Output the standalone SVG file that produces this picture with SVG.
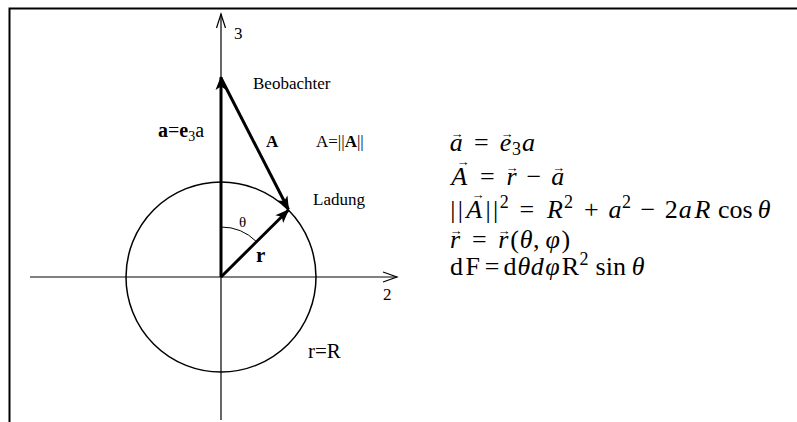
<svg xmlns="http://www.w3.org/2000/svg" width="797" height="422" viewBox="0 0 797 422">
<style>
text{font-family:"Liberation Serif","Times New Roman",serif;fill:#000}
.lb{font-size:17px}
.m{font-size:26px}
.s{font-size:18px}
.i{font-style:italic}
.b{font-weight:bold}
.v{font-size:13px;text-anchor:middle}
.ax{stroke:#000;stroke-width:1.2;fill:none}
.vec{stroke:#000;stroke-width:3;fill:none;marker-end:url(#ah)}
</style>
<defs>
<marker id="ah" markerUnits="userSpaceOnUse" markerWidth="16" markerHeight="12" refX="14" refY="6" orient="auto" viewBox="0 0 16 12">
<path d="M15,6 L1,0.5 L4.5,6 L1,11.5 Z" fill="#000"/>
</marker>
</defs>
<rect width="797" height="422" fill="#fff"/>
<path d="M9.5,422 V8.5 H797" stroke="#000" stroke-width="2" fill="none"/>

<g id="axis2">
<line x1="30" y1="277" x2="397" y2="277" stroke="#808080" stroke-width="2"/>
<path class="ax" d="M383,272 L397,277 L383,282" stroke="#555"/>
<text class="lb" x="383" y="300">2</text>
</g>
<g id="axis3">
<line class="ax" x1="221" y1="420" x2="221" y2="14"/>
<path class="ax" d="M216.5,28 L221,14 L225.5,28"/>
<text class="lb" x="234" y="39">3</text>
</g>
<g id="sphere">
<circle cx="221" cy="277" r="95" fill="none" stroke="#000" stroke-width="1.5"/>
<text x="308" y="358" style="font-size:21px">r=R</text>
</g>
<g id="angle">
<path d="M221,227 A50,50 0 0 1 256.4,241.6" fill="none" stroke="#000" stroke-width="1"/>
<text x="239" y="227" style="font-size:15px">θ</text>
</g>
<g id="connectors">
<line class="vec" x1="221" y1="277" x2="221" y2="77"/>
<line class="vec" x1="221" y1="78" x2="288.5" y2="209.5"/>
<line class="vec" x1="221" y1="277" x2="288.5" y2="210"/>
</g>
<g id="labels">
<text class="lb" x="253" y="89">Beobachter</text>
<text x="158" y="137" style="font-size:20px"><tspan class="b">a</tspan>=<tspan class="b">e</tspan><tspan dy="4" style="font-size:14px">3</tspan><tspan dy="-4">a</tspan></text>
<text class="lb b" x="266" y="147">A</text>
<text class="lb" x="316" y="147">A=||<tspan class="b">A</tspan>||</text>
<text class="lb" x="313" y="205">Ladung</text>
<text class="b" x="256" y="262" style="font-size:21px">r</text>
</g>
<g id="equations">
<!-- line 1 -->
<text class="m i" x="449.7" y="151">a</text>
<text class="v" x="457" y="138">→</text>
<text class="m" x="473.9" y="151">=</text>
<text class="m i" x="499.8" y="151">e</text>
<text class="v" x="507" y="138">→</text>
<text class="s" x="512" y="155">3</text>
<text class="m i" x="522" y="151">a</text>
<!-- line 2 -->
<text class="m i" x="451.2" y="185">A</text>
<text class="v" x="463" y="166">→</text>
<text class="m" x="479.9" y="185">=</text>
<text class="m i" x="506.4" y="185">r</text>
<text class="v" x="512" y="172">→</text>
<text class="m" x="526.6" y="185">−</text>
<text class="m i" x="551.2" y="185">a</text>
<text class="v" x="558.5" y="172">→</text>
<!-- line 3 -->
<text class="m" x="450.2" y="218">|</text>
<text class="m" x="457.7" y="218">|</text>
<text class="m i" x="466.2" y="218">A</text>
<text class="v" x="478" y="199">→</text>
<text class="m" x="485.5" y="218">|</text>
<text class="m" x="492.9" y="218">|</text>
<text class="s" x="499.8" y="208">2</text>
<text class="m" x="519.4" y="218">=</text>
<text class="m i" x="547.1" y="218">R</text>
<text class="s" x="564" y="208">2</text>
<text class="m" x="583.9" y="218">+</text>
<text class="m i" x="608.5" y="218">a</text>
<text class="s" x="622" y="208">2</text>
<text class="m" x="640.6" y="218">−</text>
<text class="m" x="664.8" y="218">2</text>
<text class="m i" x="678.7" y="218">a</text>
<text class="m i" x="694.6" y="218">R</text>
<text class="m" x="718" y="218">cos</text>
<text class="m i" x="757.7" y="218">θ</text>
<!-- line 4 -->
<text class="m i" x="450" y="248">r</text>
<text class="v" x="456" y="235">→</text>
<text class="m" x="471.9" y="248">=</text>
<text class="m i" x="498.2" y="248">r</text>
<text class="v" x="504" y="235">→</text>
<text class="m" x="510.3" y="248">(</text>
<text class="m i" x="519.7" y="248">θ</text>
<text class="m" x="533.1" y="248">,</text>
<text class="m i" x="545.5" y="248">φ</text>
<text class="m" x="561.6" y="248">)</text>
<!-- line 5 -->
<text class="m" x="450" y="275">d</text>
<text class="m" x="465.6" y="275">F</text>
<text class="m" x="484.7" y="275">=</text>
<text class="m" x="503.6" y="275">d</text>
<text class="m i" x="517.5" y="275">θ</text>
<text class="m i" x="530.8" y="275">d</text>
<text class="m i" x="545.2" y="275">φ</text>
<text class="m" x="561.7" y="275">R</text>
<text class="s" x="579.5" y="265">2</text>
<text class="m" x="595.6" y="275">sin</text>
<text class="m i" x="631.8" y="275">θ</text>
</g>
</svg>
